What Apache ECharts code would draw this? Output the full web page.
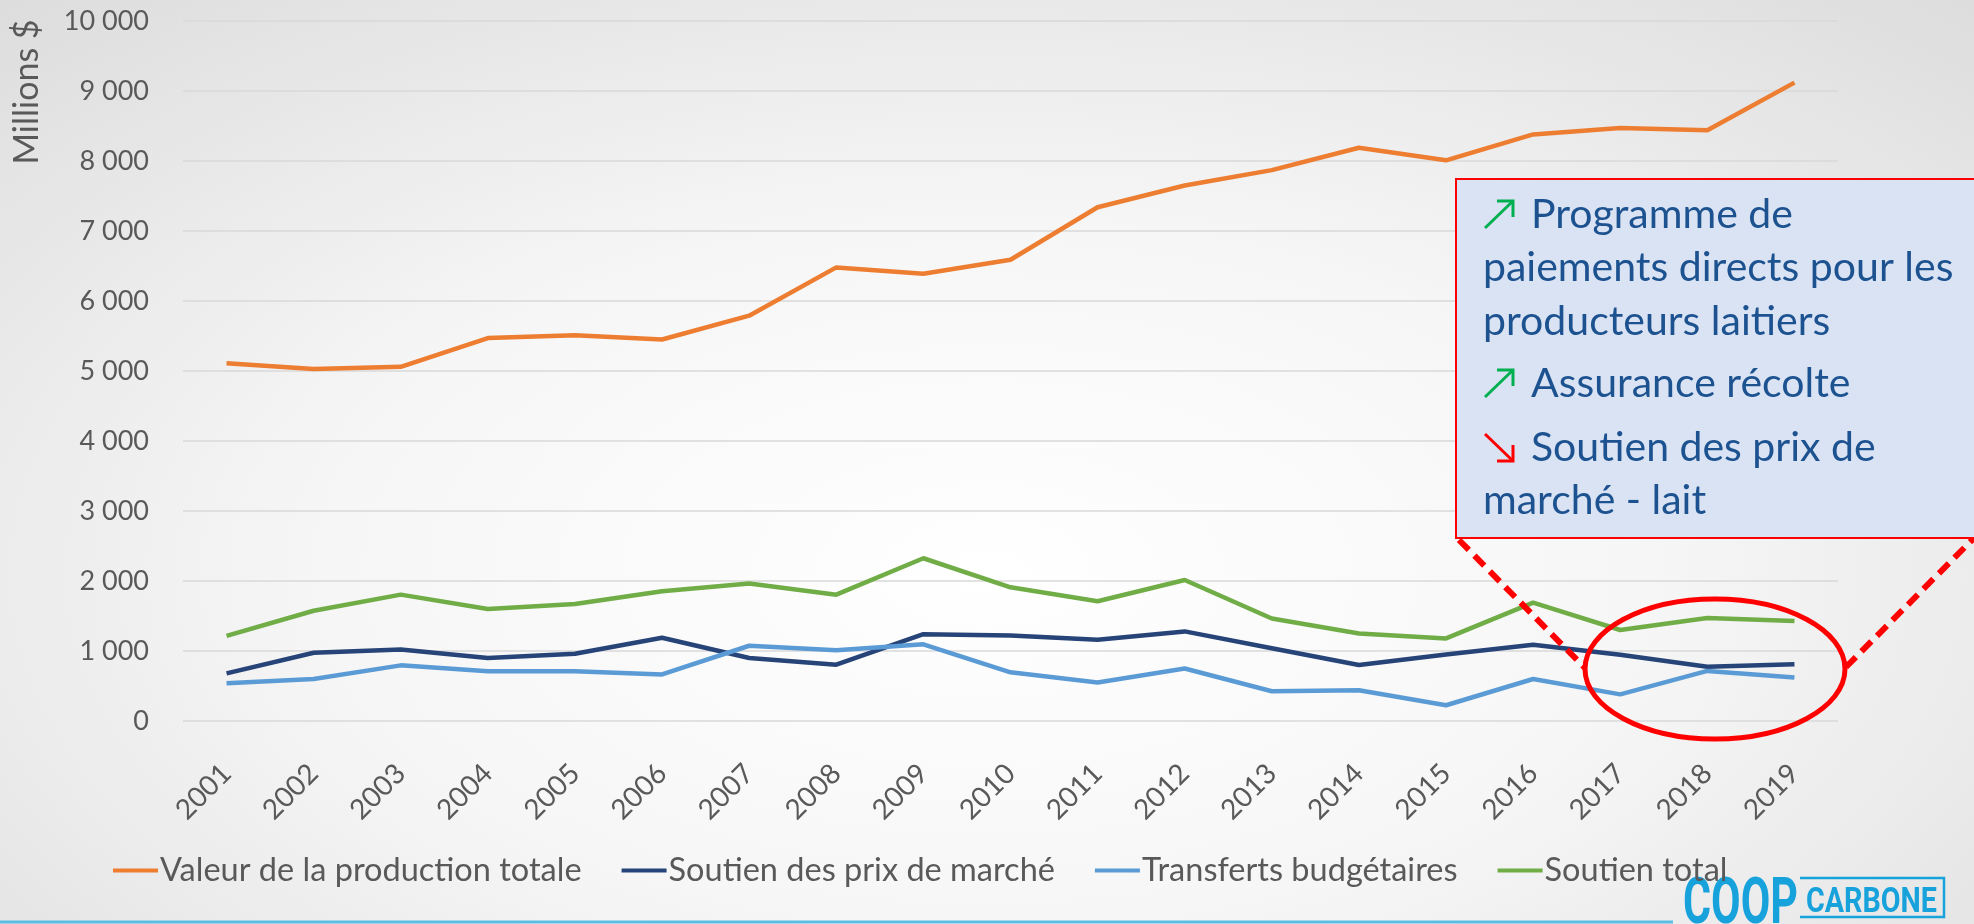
<!DOCTYPE html>
<html>
<head>
<meta charset="utf-8">
<title>Soutien au secteur laitier</title>
<script src="https://cdn.jsdelivr.net/npm/echarts@6/dist/echarts.min.js"></script>
<style>
  html, body { margin: 0; padding: 0; }
  body {
    width: 1974px; height: 924px; overflow: hidden;
    background: radial-gradient(ellipse 75% 85% at 50% 62%, #ffffff 0%, #f6f6f6 45%, #dcdcdc 100%);
  }
  #main { width: 1974px; height: 924px; }
</style>
</head>
<body>
<div id="main"></div>
<script>
// valeurs (millions $)
var annees = ['2001','2002','2003','2004','2005','2006','2007','2008','2009','2010',
              '2011','2012','2013','2014','2015','2016','2017','2018','2019'];
var production = [5110,5030,5060,5470,5510,5450,5790,6480,6390,6590,7340,7650,7870,8190,8010,8380,8470,8440,9120];
var prixMarche = [680,975,1020,900,960,1190,900,805,1240,1220,1160,1280,1040,800,950,1090,945,775,810];
var transferts = [540,600,795,710,710,665,1075,1010,1095,695,550,750,425,440,225,600,380,715,620];
var soutienTotal = [1215,1575,1805,1600,1670,1855,1965,1805,2325,1910,1710,2015,1465,1250,1180,1690,1300,1470,1430];

var noms = ['Valeur de la production totale', 'Soutien des prix de marché', 'Transferts budgétaires', 'Soutien total'];
var couleurs = ['#ed7d31', '#264478', '#5b9bd5', '#70ad47'];
var police = 'Lato, "Open Sans", sans-serif';
var gris = '#595959';
var bleuTexte = '#1d5290';
var vert = '#00b050';
var rouge = '#ff0000';

function milliers(v) {
  return String(v).replace(/\B(?=(\d{3})+(?!\d))/g, ' ');
}

var myChart = echarts.init(document.getElementById('main'));

function serie(i, data) {
  return {
    name: noms[i],
    type: 'line',
    data: data,
    symbol: 'none',
    lineStyle: { width: 4.5, color: couleurs[i] },
    itemStyle: { color: couleurs[i] },
    z: 3
  };
}

// petites flèches de l'encadré (haut = hausse, bas = baisse)
function fleche(x, yBas, hausse, c) {
  var x1 = x, x2 = x + 28, y1, y2, tete;
  if (hausse) {
    y1 = yBas; y2 = yBas - 27;
    tete = [[x2 - 16, y2], [x2, y2], [x2, y2 + 16]];
  } else {
    y1 = yBas - 27; y2 = yBas;
    tete = [[x2 - 16, y2], [x2, y2], [x2, y2 - 16]];
  }
  return [
    { type: 'line', z: 11, shape: { x1: x1, y1: y1, x2: x2, y2: y2 }, style: { stroke: c, lineWidth: 3 } },
    { type: 'polyline', z: 11, shape: { points: tete }, style: { stroke: c, lineWidth: 3, fill: 'none' } }
  ];
}

// encadré explicatif
var lignes = [
  { t: 'Programme de', y: 215, fl: 'up', c: vert },
  { t: 'paiements directs pour les', y: 268 },
  { t: 'producteurs laitiers', y: 322 },
  { t: 'Assurance récolte', y: 384, fl: 'up', c: vert },
  { t: 'Soutien des prix de', y: 448, fl: 'down', c: rouge },
  { t: 'marché - lait', y: 501 }
];
var graph = [
  {
    type: 'rect', z: 10,
    shape: { x: 1456, y: 179, width: 530, height: 359 },
    style: { fill: '#dae3f3', stroke: rouge, lineWidth: 2 }
  }
];
lignes.forEach(function (l) {
  if (l.fl) {
    graph = graph.concat(fleche(1485, l.y + 13, l.fl === 'up', l.c));
  }
  graph.push({
    type: 'text', z: 11, x: l.fl ? 1531 : 1483, y: l.y,
    style: { text: l.t, fill: bleuTexte, font: '41px ' + police, verticalAlign: 'middle' }
  });
});
graph.push(
  {
    type: 'ellipse', z: 9,
    shape: { cx: 1715, cy: 669, rx: 130, ry: 70 },
    style: { fill: 'none', stroke: rouge, lineWidth: 5 }
  },
  {
    type: 'line', z: 9,
    shape: { x1: 1459, y1: 540, x2: 1585, y2: 668 },
    style: { stroke: rouge, lineWidth: 6, lineDash: [14, 8] }
  },
  {
    type: 'line', z: 9,
    shape: { x1: 1846, y1: 667, x2: 1974, y2: 538 },
    style: { stroke: rouge, lineWidth: 6, lineDash: [14, 8] }
  },
  // titre de l'axe
  {
    type: 'text', x: 27, y: 92, rotation: Math.PI / 2,
    style: { text: 'Millions $', fill: gris, font: '34px ' + police, align: 'center', verticalAlign: 'middle' }
  },
  // bas de page + logo
  {
    type: 'line',
    shape: { x1: 0, y1: 922, x2: 1673, y2: 922 },
    style: { stroke: '#5bbde3', lineWidth: 3 }
  },
  {
    type: 'text', x: 1683, y: 939, scaleX: 0.66,
    style: { text: 'COOP', fill: '#17a2dc', font: 'bold 65px Roboto', verticalAlign: 'bottom' }
  },
  {
    type: 'polyline',
    shape: { points: [[1800, 878], [1944, 878], [1944, 917], [1800, 917]] },
    style: { stroke: '#17a2dc', lineWidth: 2.5, fill: 'none' }
  },
  {
    type: 'text', x: 1806, y: 903, scaleX: 0.82,
    style: { text: 'CARBONE', fill: '#17a2dc', font: 'bold 35px Roboto', verticalAlign: 'middle' }
  }
);

myChart.setOption({
  backgroundColor: 'transparent',
  animation: false,
  color: couleurs,
  grid: { left: 183, right: 136, top: 21, bottom: 203, containLabel: false },
  legend: {
    data: noms,
    left: 108, top: 849,
    icon: 'rect',
    itemWidth: 45, itemHeight: 4,
    itemGap: 40,
    textStyle: { color: gris, fontSize: 32.5, fontFamily: police, padding: [0, 0, 0, -3] }
  },
  xAxis: {
    type: 'category',
    data: annees,
    boundaryGap: true,
    axisLine: { show: false },
    axisTick: { show: false },
    axisLabel: {
      rotate: 45, color: gris, fontSize: 28, fontFamily: police, margin: 48
    }
  },
  yAxis: {
    type: 'value',
    min: 0, max: 10000, interval: 1000,
    axisLine: { show: false },
    axisTick: { show: false },
    splitLine: { lineStyle: { color: '#d9d9d9', width: 1.5 } },
    axisLabel: { color: gris, fontSize: 27, fontFamily: police, margin: 34, formatter: milliers }
  },
  series: [
    serie(0, production),
    serie(1, prixMarche),
    serie(2, transferts),
    serie(3, soutienTotal)
  ],
  graphic: graph
});
</script>
</body>
</html>
